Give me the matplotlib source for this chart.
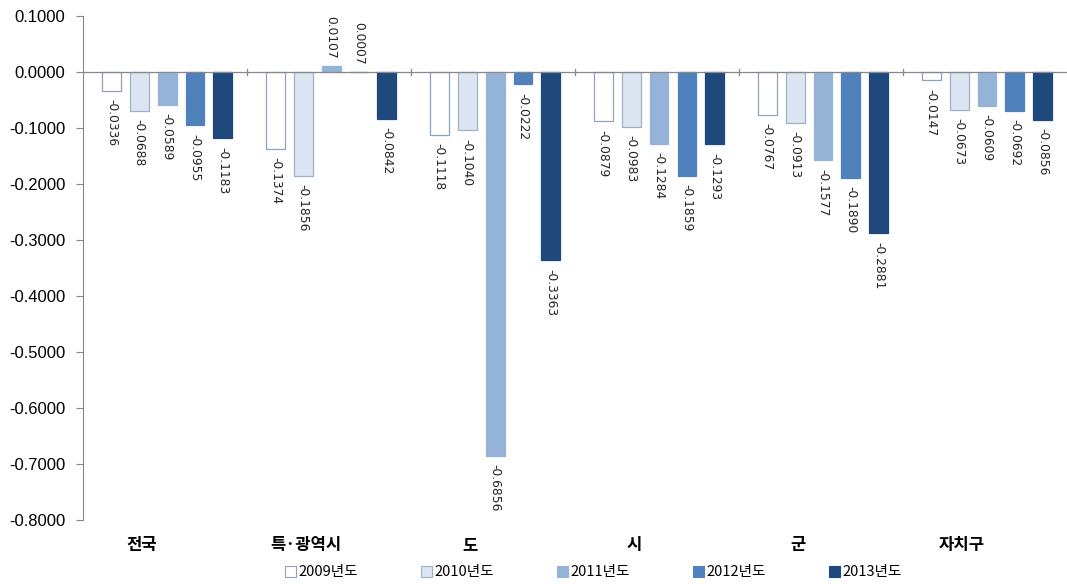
import matplotlib
matplotlib.use("Agg")
import matplotlib.pyplot as plt
import numpy as np
from matplotlib.patches import Patch

categories = ["전국", "특·광역시", "도", "시", "군", "자치구"]
years = ["2009년도", "2010년도", "2011년도", "2012년도", "2013년도"]
v2009 = [-0.0336, -0.1374, -0.1118, -0.0879, -0.0767, -0.0147]
v2010 = [-0.0688, -0.1856, -0.1040, -0.0983, -0.0913, -0.0673]
v2011 = [-0.0589, 0.0107, -0.6856, -0.1284, -0.1577, -0.0609]
v2012 = [-0.0955, 0.0007, -0.0222, -0.1859, -0.1890, -0.0692]
v2013 = [-0.1183, -0.0842, -0.3363, -0.1293, -0.2881, -0.0856]
series = [v2009, v2010, v2011, v2012, v2013]
yticks = [-0.8, -0.7, -0.6, -0.5, -0.4, -0.3, -0.2, -0.1, 0.0, 0.1]

faces = ["#FFFFFF", "#DCE6F2", "#95B3D7", "#4F81BD", "#1F497D"]
edges = ["#8EA3BD", "#9FB1C8", "#95B3D7", "#4F81BD", "#1F497D"]

plt.rcParams['font.family'] = ['Liberation Sans', 'Noto Sans CJK KR', 'DejaVu Sans']

fig = plt.figure(figsize=(10.67, 5.84), dpi=100)
ax = fig.add_axes([0.078, 0.1096, 0.922, 0.863])

x = np.arange(len(categories))
step = 0.17
width = 0.115
for i, (vals, fc, ec) in enumerate(zip(series, faces, edges)):
    pos = x + (i - 2) * step + 0.012
    ax.bar(pos, vals, width=width, color=fc, edgecolor=ec, linewidth=0.9, zorder=2)
    for p, v in zip(pos, vals):
        if v < 0:
            ax.annotate(f"{v:.4f}", (p, v), xytext=(0, -6), textcoords="offset points",
                        rotation=270, ha="center", va="top", fontsize=8.8,
                        family=['DejaVu Sans'], color="#222222")
        else:
            ax.annotate(f"{v:.4f}", (p, v), xytext=(0, 5), textcoords="offset points",
                        rotation=270, ha="center", va="bottom", fontsize=8.8,
                        family=['DejaVu Sans'], color="#222222")

ax.set_xlim(-0.5, 5.5)
ax.set_ylim(-0.8, 0.1)
ax.set_yticks(yticks)
ax.set_yticklabels([f"{t:.4f}" for t in yticks], fontsize=12)
ax.tick_params(axis='y', direction='out', length=5, color="#888888", width=0.8, pad=8)
ax.set_xticks([])

for s in ["top", "right", "bottom"]:
    ax.spines[s].set_visible(False)
ax.spines["left"].set_color("#888888")
ax.axhline(0, color="#888888", linewidth=0.9, zorder=3)
for b in np.arange(0.5, 5.0, 1.0):
    ax.plot([b, b], [-0.006, 0.006], color="#888888", linewidth=0.9, zorder=3)

for xi, c in zip(x, categories):
    ax.annotate(c, (xi - 0.14, -0.8), xytext=(0, -18), textcoords="offset points",
                ha="center", va="center", fontsize=12, fontweight="bold",
                family=['Noto Sans CJK KR', 'DejaVu Sans'], annotation_clip=False)

handles = [Patch(facecolor=fc, edgecolor=ec, linewidth=0.8) for fc, ec in zip(faces, edges)]
leg = fig.legend(handles, years, loc="center", bbox_to_anchor=(0.556, 0.02), ncol=5,
                 frameon=False, handlelength=0.75, handleheight=0.75, handletextpad=0.2,
                 columnspacing=4.3, prop={'family': ['Noto Sans CJK KR', 'DejaVu Sans'], 'size': 10.5})

fig.savefig("out.png", dpi=100)
